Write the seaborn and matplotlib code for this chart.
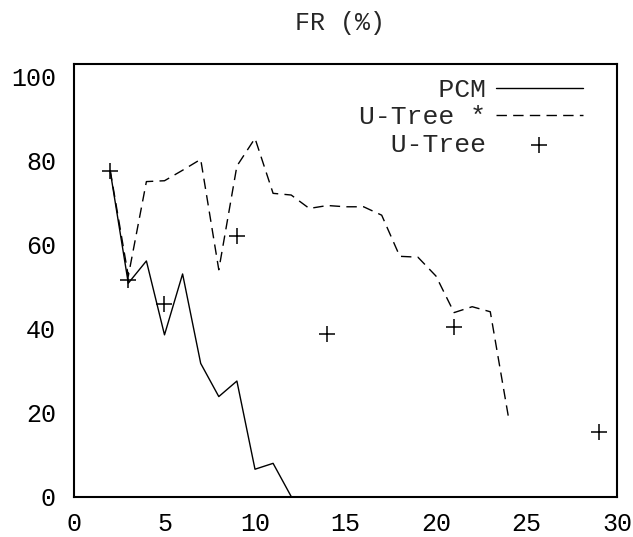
import pandas as pd
import matplotlib.pyplot as plt
import seaborn as sns

# values
pcm_x = [2, 3, 4, 5, 6, 7, 8, 9, 10, 11, 12]
pcm_y = [77.5, 50.8, 56.1, 38.5, 53.0, 31.7, 23.8, 27.5, 6.5, 7.9, 0.0]

utree_star_x = [2, 3, 4, 5, 6, 7, 8, 9, 10, 11, 12, 13, 14, 15, 16, 17, 18, 19, 20, 21, 22, 23, 24]
utree_star_y = [77.7, 52.5, 75.0, 75.2, 77.7, 80.3, 54.0, 78.7, 85.3, 72.2, 71.8, 68.6, 69.3, 69.0,
                69.0, 67.0, 57.2, 57.0, 52.5, 43.8, 45.2, 44.0, 19.0]

utree_x = [2, 3, 5, 9, 14, 21, 29]
utree_y = [77.5, 51.5, 45.8, 62.0, 38.7, 40.3, 15.3]

x_ticks = [0, 5, 10, 15, 20, 25, 30]
y_ticks = [0, 20, 40, 60, 80, 100]


def main():
    sns.set_style("white")
    plt.rcParams["font.family"] = ["Liberation Mono", "DejaVu Sans Mono"]

    pcm = pd.DataFrame({"x": pcm_x, "y": pcm_y})
    star = pd.DataFrame({"x": utree_star_x, "y": utree_star_y})
    pts = pd.DataFrame({"x": utree_x, "y": utree_y})

    fig = plt.figure(figsize=(6.33, 5.37), dpi=100)
    ax = fig.add_axes([0.1169, 0.0754, 0.8578, 0.8054])

    sns.lineplot(data=pcm, x="x", y="y", color="black", linewidth=1.0,
                 label="     PCM", ax=ax)
    sns.lineplot(data=star, x="x", y="y", color="black", linewidth=1.0,
                 dashes=False, label="U-Tree *", ax=ax)
    ax.lines[-1].set_dashes((7.5, 4.5))
    sns.scatterplot(data=pts, x="x", y="y", marker="+", s=140, color="black",
                    linewidth=1.1, label="  U-Tree", ax=ax)

    ax.set_xlim(0, 30)
    ax.set_ylim(0, 103)
    ax.set_xticks(x_ticks)
    ax.set_yticks(y_ticks)
    ax.set_xlabel("")
    ax.set_ylabel("")
    ax.tick_params(direction="in", length=12.5, width=1.5, labelsize=18,
                   colors="black")
    ax.tick_params(axis="x", pad=11.5)
    ax.tick_params(axis="y", pad=13)
    for sp in ax.spines.values():
        sp.set_linewidth(1.5)
        sp.set_color("black")

    fig.text(0.537, 0.958, "FR (%)", ha="center", va="center", fontsize=18)

    ax.legend(loc="upper right", bbox_to_anchor=(0.937, 0.967), frameon=False,
              fontsize=19, markerfirst=False, handlelength=3.3,
              handletextpad=0.38, labelspacing=0.12, borderaxespad=0,
              borderpad=0)

    fig.savefig("out.png", dpi=100)


if __name__ == "__main__":
    main()
